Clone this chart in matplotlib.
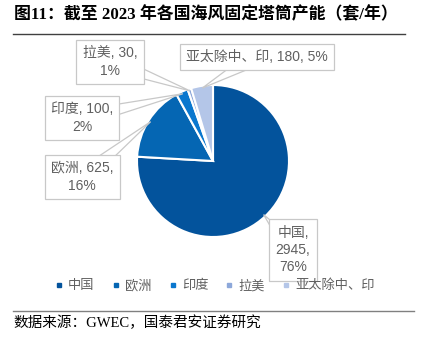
import matplotlib
matplotlib.use('Agg')
import matplotlib.pyplot as plt
from matplotlib.lines import Line2D
from matplotlib.patches import Polygon
import numpy as np

plt.rcParams['font.family'] = ['Liberation Sans', 'Noto Sans CJK SC']

# capacity by region (sets / year)
regions = ['中国', '欧洲', '印度', '拉美', '亚太除中、印']
capacity = [2945, 625, 100, 30, 180]
pct_labels = ['76%', '16%', '2%', '1%', '5%']
colors = ['#03539C', '#0566B3', '#0A77CE', '#8DA8DA', '#B4C6E8']

# callout text layout: separator after name, separator after value
seps = [(',\n', ',\n'), (', ', ',\n'), (', ', ',\n'), (', ', ',\n'), (', ', ', ')]
# callout box centres in pixels (x, y from top)
box_pos = [(293, 250), (82, 177), (82, 118), (110, 62), (257, 57)]

W, H = 421, 339
fig = plt.figure(figsize=(W / 100, H / 100), dpi=100)
ax = fig.add_axes([0, 0, 1, 1])

cx, cy, r = 213, H - 161, 76
wedges, _ = ax.pie(capacity, colors=colors, startangle=90, counterclock=False,
                   center=(cx, cy), radius=r, frame=True,
                   wedgeprops=dict(edgecolor='white', linewidth=1.5))
ax.set_xlim(0, W)
ax.set_ylim(0, H)
ax.set_aspect('auto')
ax.axis('off')

# callouts with wedge pointers
for w, name, val, pct, sp, (bx, by) in zip(wedges, regions, capacity, pct_labels, seps, box_pos):
    by = H - by
    ang = np.deg2rad((w.theta1 + w.theta2) / 2)
    tx, ty = cx + 0.97 * r * np.cos(ang), cy + 0.97 * r * np.sin(ang)
    d = np.array([tx - bx, ty - by])
    d = d / np.hypot(*d)
    nrm = np.array([-d[1], d[0]]) * 8
    tri = Polygon([(bx + nrm[0], by + nrm[1]), (bx - nrm[0], by - nrm[1]), (tx, ty)],
                  closed=True, facecolor='white', edgecolor='#C8C8C8', linewidth=0.9,
                  zorder=4)
    ax.add_patch(tri)
    ax.text(bx, by, f'{name}{sp[0]}{val}{sp[1]}{pct}', ha='center', va='center',
            multialignment='center', fontsize=10, color='#606060', linespacing=1.3,
            zorder=5,
            bbox=dict(boxstyle='square,pad=0.45', facecolor='white',
                      edgecolor='#C8C8C8', linewidth=0.9))

# legend
handles = [Line2D([0], [0], marker='s', color=c, linestyle='None', markersize=3.5)
           for c in colors]
fig.legend(handles, regions, loc='center', bbox_to_anchor=(215 / W, 1 - 286 / H),
           ncol=5, frameon=False, fontsize=9.5, labelcolor='#606060',
           handlelength=0.6, handletextpad=0.4, columnspacing=1.3, borderpad=0)

# title and source
fig.text(14 / W, 1 - 15 / H, '图11：截至 2023 年各国海风固定塔筒产能（套/年）',
         ha='left', va='center', fontsize=12.2, fontweight='bold', color='black',
         family=['Liberation Serif', 'Noto Sans CJK SC'])
fig.add_artist(Line2D([13 / W, 405 / W], [1 - 34 / H, 1 - 34 / H], color='#404040',
                      linewidth=1.0))
fig.add_artist(Line2D([13 / W, 414 / W], [1 - 311 / H, 1 - 311 / H], color='#808080',
                      linewidth=1.0))
fig.text(13 / W, 1 - 323 / H, '数据来源：GWEC，国泰君安证券研究', ha='left', va='center',
         fontsize=10.5, color='black', family=['Liberation Serif', 'Noto Sans CJK SC'])

fig.savefig('out.png', dpi=100)
